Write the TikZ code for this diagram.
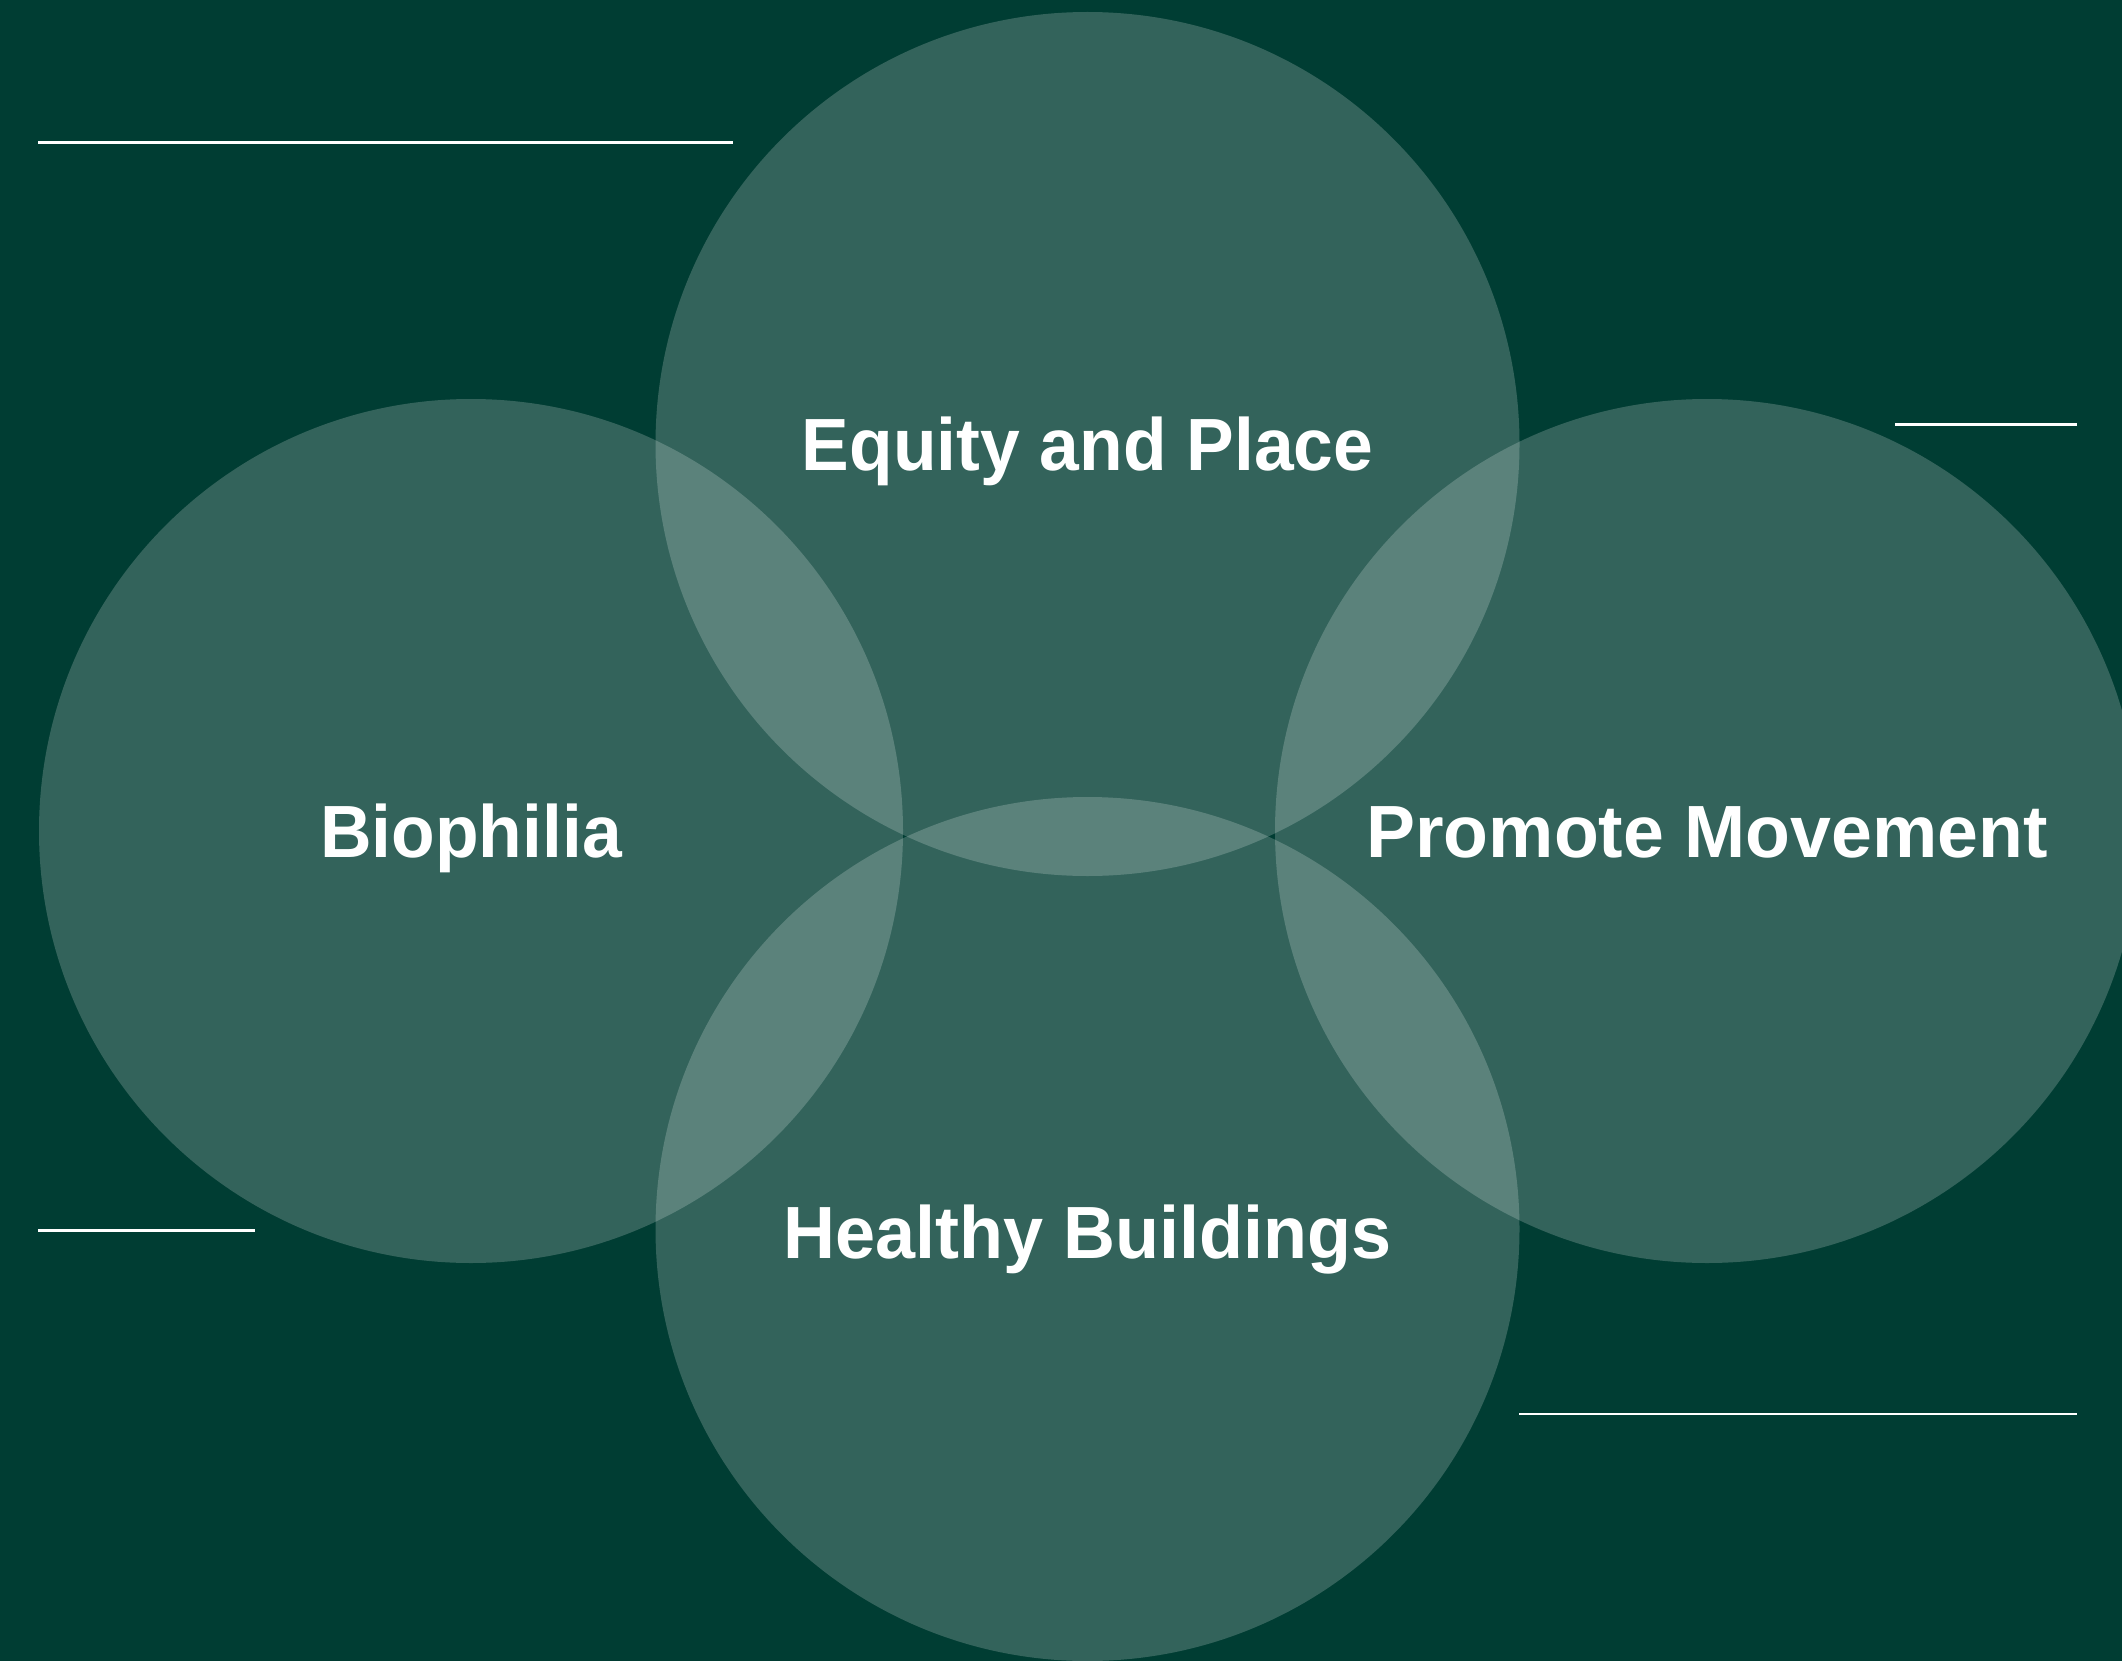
\documentclass[tikz,border=0pt]{standalone}
\usepackage{graphicx}
\usepackage{fontspec}
\newfontfamily\labelfont{Liberation Sans}[FakeStretch=0.965]
\definecolor{bg}{HTML}{003D33}
\tikzset{
  venncircle/.style={circle, minimum size=864pt, inner sep=0pt, outer sep=0pt, fill=white, fill opacity=0.2, draw=none},
  venntext/.style={text=white, inner sep=0pt, text height=53pt, text depth=0pt, font=\labelfont\bfseries\fontsize{74pt}{80pt}\selectfont},
  rule/.style={draw=white, line width=2.6pt}
}
\begin{document}
\begin{tikzpicture}[x=1pt, y=-1pt]
  \useasboundingbox (0,0) rectangle (2122,1661);
  \fill[bg] (0,0) rectangle (2122,1661);
  \begin{scope}
    \clip (0,0) rectangle (2122,1661);
    \node[venncircle] (eq) at (1087.5,444) {};
    \node[venncircle] (bio) at (471,831) {};
    \node[venncircle] (mov) at (1707,831) {};
    \node[venncircle] (hb) at (1087.5,1229) {};
  \end{scope}
  \node[venntext] (teq) at (eq.center) {Equity and Place};
  \node[venntext] (tbio) at (bio.center) {Biophilia};
  \node[venntext] (tmov) at (mov.center) {\scalebox{1.028}[1]{Promote Movement}};
  \node[venntext] (thb) at ([yshift=-3pt]hb.center) {\scalebox{1.008}[1]{Healthy Buildings}};
  \coordinate (l1a) at (38,142.7);   \coordinate (l1b) at (733,142.7);
  \coordinate (l2a) at (1895,424.7); \coordinate (l2b) at (2077,424.7);
  \coordinate (l3a) at (38,1230.3);  \coordinate (l3b) at (255,1230.3);
  \coordinate (l4a) at (1519,1414);  \coordinate (l4b) at (2077,1414);
  \draw[rule] (l1a) -- (l1b);
  \draw[rule] (l2a) -- (l2b);
  \draw[rule] (l3a) -- (l3b);
  \draw[rule] (l4a) -- (l4b);
\end{tikzpicture}
\end{document}
